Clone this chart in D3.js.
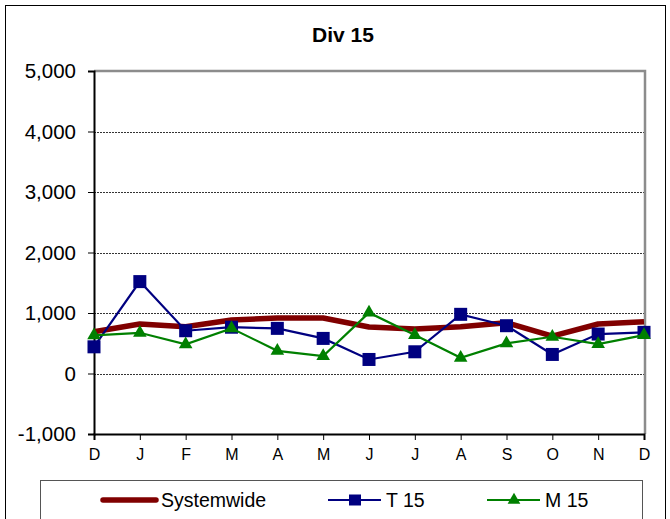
<!DOCTYPE html>
<html>
<head>
<meta charset="utf-8">
<script src="https://cdn.jsdelivr.net/npm/d3@7"></script>
<style>
  body { margin: 0; background: #fff; }
  svg { font-family: "Liberation Sans", Arial, sans-serif; }
</style>
</head>
<body>
<div id="chart"></div>
<script>
// --- data ---
const months = ["D", "J", "F", "M", "A", "M", "J", "J", "A", "S", "O", "N", "D"];
const systemwide = [690, 818, 773, 884, 917, 917, 768, 735, 773, 840, 618, 818, 856];
const t15 = [441, 1519, 707, 765, 746, 580, 232, 359, 978, 790, 315, 652, 680];
const m15 = [630, 673, 481, 746, 375, 287, 1005, 635, 259, 497, 607, 486, 635];
const yTicks = [-1000, 0, 1000, 2000, 3000, 4000, 5000];

const W = 670, H = 519;
const svg = d3.select("#chart").append("svg").attr("width", W).attr("height", H);

// outer frame
svg.append("rect").attr("x", 5.5).attr("y", 5.5).attr("width", 660).attr("height", 520)
    .attr("fill", "#fff").attr("stroke", "#000").attr("stroke-width", 1);

const plot = { left: 94, right: 644, top: 71, bottom: 434 };

const x = d3.scalePoint().domain(d3.range(months.length)).range([plot.left, plot.right]);
const y = d3.scaleLinear().domain([-1000, 5000]).range([plot.bottom, plot.top]);

// title
svg.append("text").attr("x", 343).attr("y", 41.5).attr("text-anchor", "middle")
    .style("font-size", "21px").style("font-weight", "bold").text("Div 15");

// gridlines
svg.append("g").selectAll("line")
    .data(yTicks.filter(v => v > -1000 && v < 5000))
    .join("line")
    .attr("x1", plot.left).attr("x2", plot.right + 1)
    .attr("y1", d => Math.round(y(d)) + 0.5).attr("y2", d => Math.round(y(d)) + 0.5)
    .attr("stroke", "#000").attr("stroke-width", 0.8).attr("stroke-dasharray", "2,1");

// plot border top/right (gray)
svg.append("path")
    .attr("d", `M${plot.left},${plot.top} H${plot.right + 1} V${plot.bottom}`)
    .attr("fill", "none").attr("stroke", "#8c8c8c").attr("stroke-width", 2.5);

// y axis (hyphen minus like the original)
const fmt = d3.format(",");
const yAxis = svg.append("g").attr("transform", `translate(${plot.left},0)`)
    .call(d3.axisLeft(y).tickValues(yTicks).tickSize(6).tickPadding(12)
        .tickFormat(d => fmt(d).replace("\u2212", "-")));
yAxis.select(".domain").attr("stroke", "#000").attr("stroke-width", 2);
yAxis.selectAll("text").style("font-size", "20.5px").attr("fill", "#000");

// x axis
const xAxis = svg.append("g").attr("transform", `translate(0,${plot.bottom})`)
    .call(d3.axisBottom(x).tickSize(6).tickPadding(9).tickFormat(i => months[i]));
xAxis.select(".domain").attr("stroke", "#000").attr("stroke-width", 2);
xAxis.selectAll("text").style("font-size", "16px").attr("fill", "#000");
svg.selectAll("g").attr("font-family", null).attr("font-size", null);

const line = d3.line().x((d, i) => x(i)).y(d => y(d));

// systemwide
svg.append("path").datum(systemwide).attr("d", line)
    .attr("fill", "none").attr("stroke", "#800000").attr("stroke-width", 5.5).attr("stroke-linejoin", "round");

// T 15
svg.append("path").datum(t15).attr("d", line)
    .attr("fill", "none").attr("stroke", "#000080").attr("stroke-width", 2.2);
svg.append("g").selectAll("rect").data(t15).join("rect")
    .attr("x", (d, i) => x(i) - 6.5).attr("y", d => y(d) - 6.5)
    .attr("width", 13).attr("height", 13).attr("fill", "#000080");

// M 15
svg.append("path").datum(m15).attr("d", line)
    .attr("fill", "none").attr("stroke", "#008000").attr("stroke-width", 2.2);
const tri = d3.symbol().type(d3.symbolTriangle).size(80);
svg.append("g").selectAll("path").data(m15).join("path")
    .attr("d", tri).attr("transform", (d, i) => `translate(${x(i)},${y(d)})`)
    .attr("fill", "#008000");

// legend
svg.append("rect").attr("x", 40.5).attr("y", 480.5).attr("width", 602).attr("height", 50)
    .attr("fill", "#fff").attr("stroke", "#555").attr("stroke-width", 1);

const legendItems = [
    { name: "Systemwide", color: "#800000", width: 5.5, marker: null, x: 103 },
    { name: "T 15", color: "#000080", width: 2.2, marker: "square", x: 328 },
    { name: "M 15", color: "#008000", width: 2.2, marker: "triangle", x: 487 }
];
const ly = 500;
legendItems.forEach(it => {
    const g = svg.append("g");
    g.append("line").attr("x1", it.x).attr("x2", it.x + 53).attr("y1", ly).attr("y2", ly)
        .attr("stroke", it.color).attr("stroke-width", it.width).attr("stroke-linecap", it.marker ? "butt" : "round");
    if (it.marker === "square") {
        g.append("rect").attr("x", it.x + 21).attr("y", ly - 5.5).attr("width", 12).attr("height", 11).attr("fill", it.color);
    } else if (it.marker === "triangle") {
        g.append("path").attr("d", d3.symbol().type(d3.symbolTriangle).size(70))
            .attr("transform", `translate(${it.x + 27},${ly})`).attr("fill", it.color);
    }
    g.append("text").attr("x", it.x + 58).attr("y", ly).attr("dy", "0.35em")
        .style("font-size", "19.5px").text(it.name);
});
</script>
</body>
</html>
